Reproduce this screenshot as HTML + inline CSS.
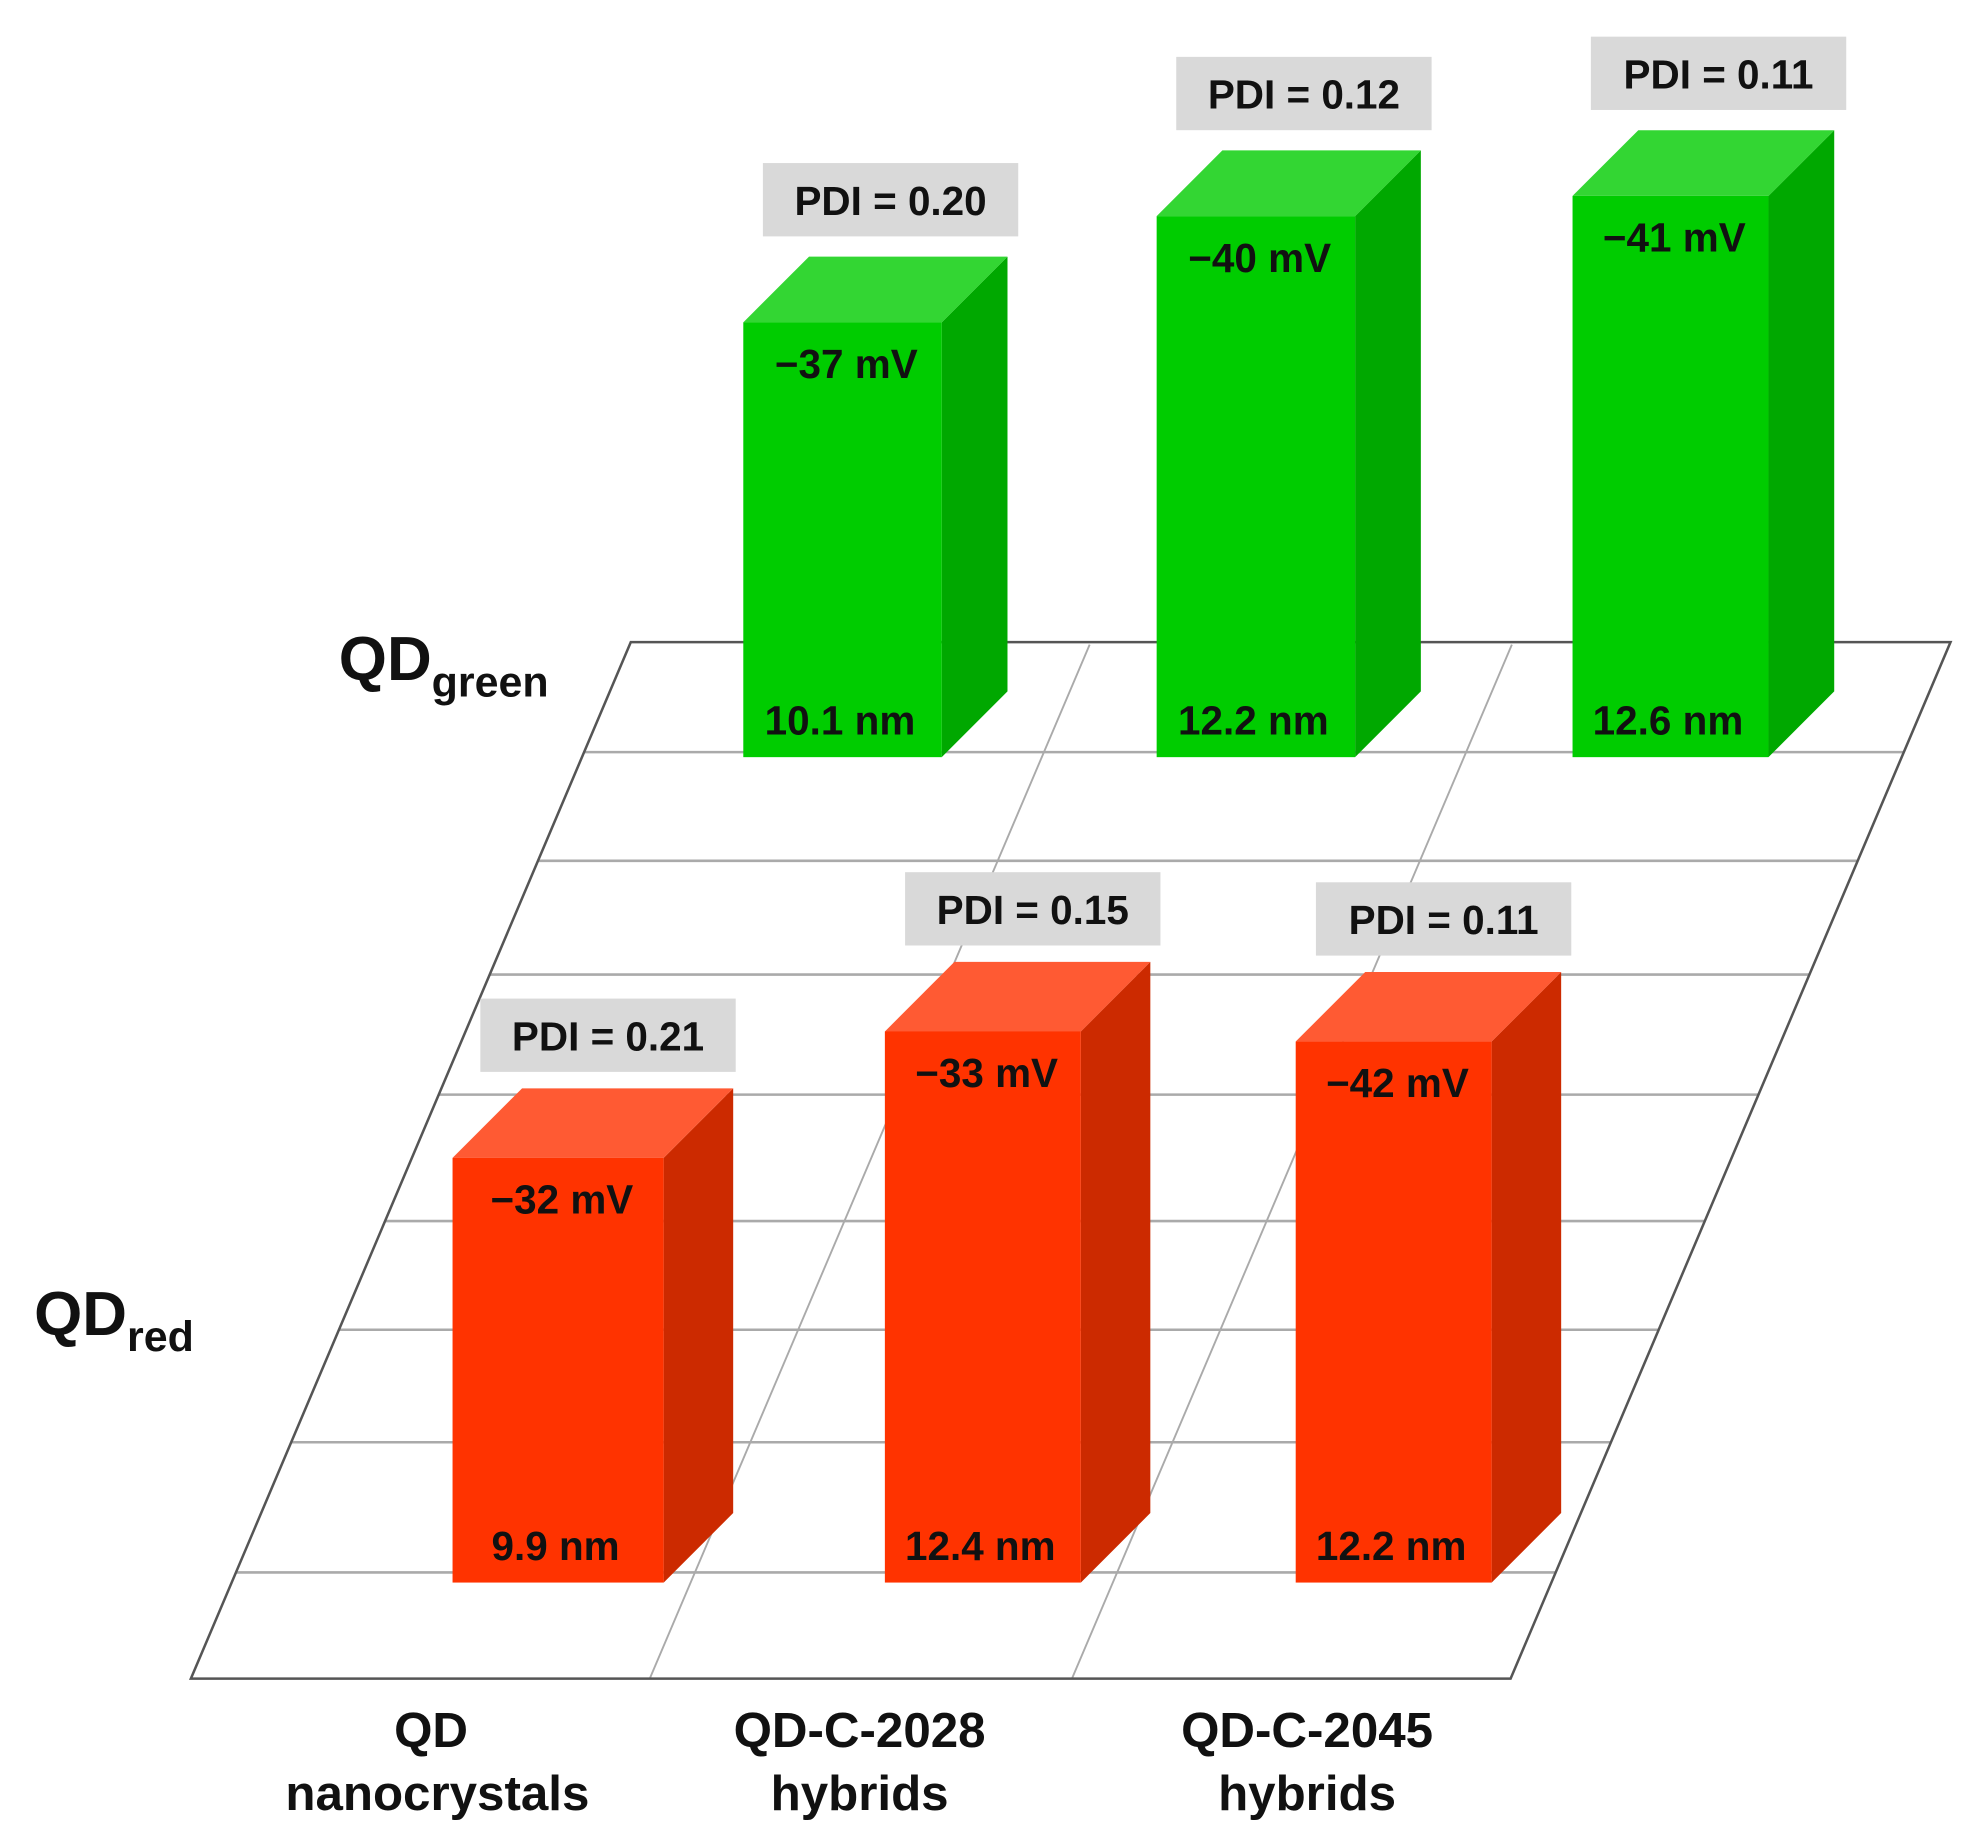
<!DOCTYPE html>
<html><head><meta charset="utf-8"><style>
html,body{margin:0;padding:0;background:#fff}
svg{display:block}
text{font-family:"Liberation Sans",Arial,sans-serif;font-weight:bold;fill:#111}
</style></head>
<body>
<svg id="chart" width="1972" height="1836" viewBox="0 0 1560 1452.5" preserveAspectRatio="none" xmlns="http://www.w3.org/2000/svg">
<g id="floor"></g>
<g id="bars"></g>
<text x="268" y="538" font-size="49">QD<tspan font-size="34" dy="13">green</tspan></text>
<text x="27" y="1056" font-size="49">QD<tspan font-size="34" dy="13">red</tspan></text>
<g id="cats"></g>
</svg>
<script>
const categories = [["QD","nanocrystals"],["QD-C-2028","hybrids"],["QD-C-2045","hybrids"]];
const greenSize = [10.1, 12.2, 12.6];
const greenZeta = ["\u221237 mV","\u221240 mV","\u221241 mV"];
const greenPDI = ["0.20","0.12","0.11"];
const redSize = [9.9, 12.4, 12.2];
const redZeta = ["\u221232 mV","\u221233 mV","\u221242 mV"];
const redPDI = ["0.21","0.15","0.11"];

const NS = "http://www.w3.org/2000/svg";
function mk(tag, attrs, parent){const e=document.createElementNS(NS,tag);for(const k in attrs)e.setAttribute(k,attrs[k]);parent.appendChild(e);return e;}
function h(nm){return 40*nm-60;}

const floor=document.getElementById('floor');
const slope=-348/820;
function leftX(y){return 499+(y-508)*slope;}
[595,681,771,866,966,1052,1141,1244].forEach(y=>{
  const l=mk('line',{x1:leftX(y),y1:y,x2:leftX(y)+1044,y2:y,stroke:'#aaa','stroke-width':2},floor);
  
  
});
[862,1196].forEach(x=>{
  const l=mk('line',{x1:x,y1:510,x2:x-348,y2:1328,stroke:'#aaa','stroke-width':1.5},floor);
  
  
});
const edges=mk('path',{d:'M499,508 L1543,508 L1195,1328 L151,1328 Z',fill:'none',stroke:'#555','stroke-width':2},floor);



const bars=document.getElementById('bars');
function drawRow(sizes,zetas,pdis,xs,ws,base,d,cF,cT,cS,row){
  sizes.forEach((v,i)=>{
    const x=xs[i],w=ws[i],top=base-h(v);
    const g=mk('g',{},bars);
    
    
    mk('polygon',{points:`${x+w},${top} ${x+w+d},${top-d} ${x+w+d},${base-d} ${x+w},${base}`,fill:cS},g);
    mk('polygon',{points:`${x},${top} ${x+d},${top-d} ${x+w+d},${top-d} ${x+w},${top}`,fill:cT},g);
    mk('rect',{x:x,y:top,width:w,height:base-top,fill:cF},g);
    const z=mk('text',{x:x+w/2+3,y:top+44,'font-size':32,'text-anchor':'middle'},g);
    z.textContent=zetas[i];
    
    
    const s=mk('text',{x:x+w/2-2,y:base-18,'font-size':32,'text-anchor':'middle'},g);
    s.textContent=v.toFixed(1)+' nm';
    
    
    const cx=x+(w+d)/2+12, by=top-68;
    const b=mk('rect',{x:cx-101,y:by-58,width:202,height:58,fill:'#d9d9d9'},g);
    
    
    const t=mk('text',{x:cx,y:by-17,'font-size':32,'text-anchor':'middle'},g);
    t.textContent='PDI = '+pdis[i];
    
    
  });
}
drawRow(greenSize,greenZeta,greenPDI,[588,915,1244],[157,157,155],599,52,'#00cc00','#33d633','#00a800','green');
drawRow(redSize,redZeta,redPDI,[358,700,1025],[167,155,155],1252,55,'#ff3300','#ff5a33','#cc2a00','red');

const cats=document.getElementById('cats');
const cx=[341,680,1034];
categories.forEach((c,i)=>{
  c.forEach((line,j)=>{
    const t=mk('text',{x:cx[i]+(j===1&&i===0?5:0),y:1382+j*50,'font-size':39,'text-anchor':'middle'},cats);
    t.textContent=line;
    
    
  });
});
</script>
</body></html>
